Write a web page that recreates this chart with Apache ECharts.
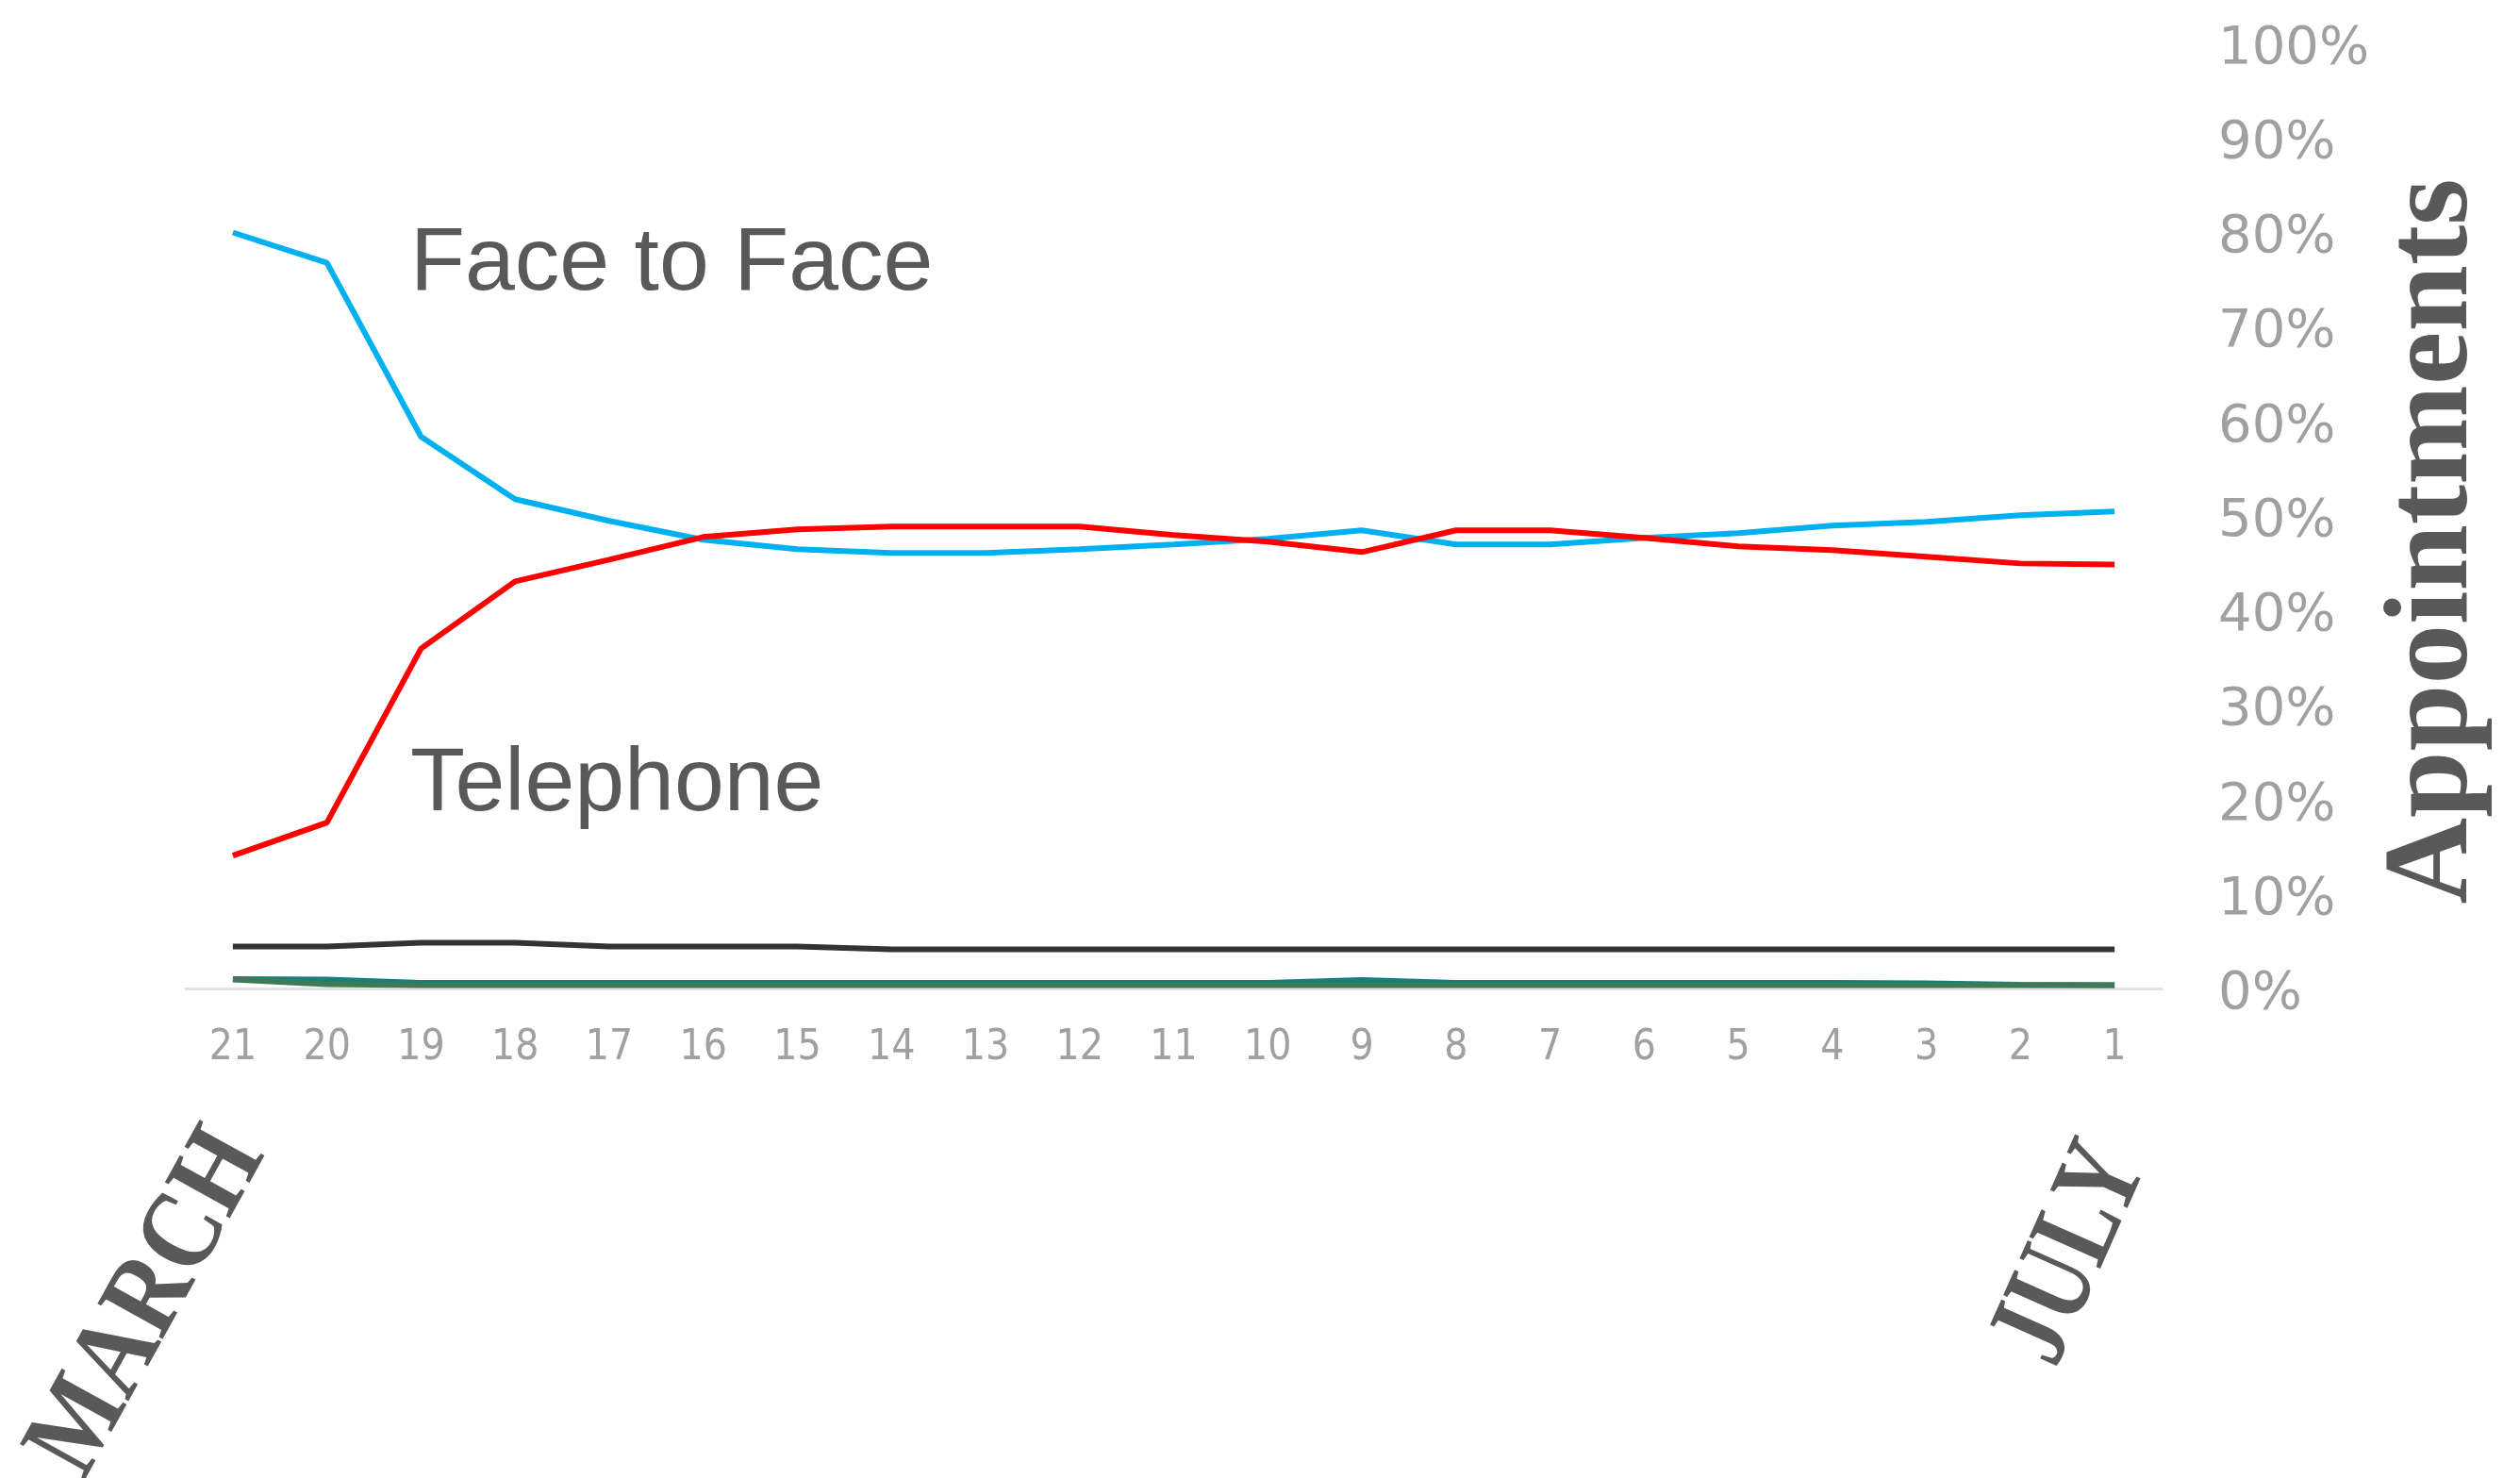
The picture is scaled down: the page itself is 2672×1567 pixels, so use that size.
<!DOCTYPE html>
<html>
<head>
<meta charset="utf-8">
<script src="https://cdn.jsdelivr.net/npm/echarts@6/dist/echarts.min.js"></script>
<style>
html,body{margin:0;padding:0;background:#fff;}
#chart{width:2672px;height:1567px;}
</style>
</head>
<body>
<div id="chart"></div>
<script>
var categories = ['21','20','19','18','17','16','15','14','13','12','11','10','9','8','7','6','5','4','3','2','1'];
var faceToFace = [80.0, 76.8, 58.4, 51.8, 49.5, 47.5, 46.5, 46.1, 46.1, 46.5, 47.0, 47.6, 48.5, 47.0, 47.0, 47.7, 48.2, 49.0, 49.4, 50.1, 50.5];
var telephone  = [14.1, 17.6, 36.0, 43.1, 45.4, 47.8, 48.6, 48.9, 48.9, 48.9, 48.0, 47.3, 46.2, 48.5, 48.5, 47.7, 46.8, 46.4, 45.7, 45.0, 44.9];
var otherDark  = [4.5, 4.5, 4.9, 4.9, 4.5, 4.5, 4.5, 4.2, 4.2, 4.2, 4.2, 4.2, 4.2, 4.2, 4.2, 4.2, 4.2, 4.2, 4.2, 4.2, 4.2];
var otherTeal  = [1.05, 1.0, 0.65, 0.65, 0.65, 0.65, 0.65, 0.65, 0.65, 0.65, 0.65, 0.65, 0.95, 0.65, 0.65, 0.65, 0.65, 0.65, 0.6, 0.45, 0.4];
var otherGreen = [1.0, 0.5, 0.4, 0.4, 0.4, 0.4, 0.4, 0.4, 0.4, 0.4, 0.4, 0.4, 0.4, 0.4, 0.4, 0.4, 0.4, 0.4, 0.4, 0.4, 0.4];
var yTicks = [0, 10, 20, 30, 40, 50, 60, 70, 80, 90, 100];

var chart = echarts.init(document.getElementById('chart'), null, {renderer: 'canvas'});

function lineSeries(name, data, color) {
  return {
    name: name, type: 'line', data: data, symbol: 'none', smooth: false,
    lineStyle: {color: color, width: 6}, itemStyle: {color: color},
    emphasis: {disabled: true}, animation: false
  };
}

function label(text, x, y, font, size, weight, rot, sx) {
  return {
    type: 'text', x: x, y: y, rotation: rot || 0, scaleX: sx || 1, scaleY: 1,
    style: {
      text: text, fill: '#595959',
      font: (weight || 'normal') + ' ' + size + 'px ' + font,
      align: 'center', verticalAlign: 'middle',
      textAlign: 'center', textVerticalAlign: 'middle'
    }
  };
}

var option = {
  backgroundColor: '#ffffff',
  animation: false,
  grid: {left: 197, right: 380, top: 46, bottom: 518.5, containLabel: false},
  xAxis: {
    type: 'category', data: categories, boundaryGap: true,
    axisLine: {show: true, lineStyle: {color: '#e2e2e2', width: 3}},
    axisTick: {show: false},
    axisLabel: {color: '#a0a0a0', fontSize: 44, fontFamily: '"DejaVu Sans Condensed", "DejaVu Sans", sans-serif', margin: 41, interval: 0},
    splitLine: {show: false}
  },
  yAxis: {
    type: 'value', position: 'right', min: 0, max: 100, interval: 10,
    axisLine: {show: false}, axisTick: {show: false}, splitLine: {show: false},
    axisLabel: {
      color: '#a0a0a0', fontSize: 56, fontFamily: '"DejaVu Sans", sans-serif', margin: 60, align: 'left',
      formatter: function (v) { return yTicks.indexOf(v) >= 0 ? '{p|' + v + '%}' : ''; },
      rich: {
        p: {color: '#a0a0a0', fontSize: 56, fontFamily: '"DejaVu Sans", sans-serif', padding: [12, 0, 0, 0]}
      }
    }
  },
  series: [
    lineSeries('Other (teal)', otherTeal, '#17807e'),
    lineSeries('Other (green)', otherGreen, '#3d7a55'),
    lineSeries('Other', otherDark, '#333333'),
    lineSeries('Face to Face', faceToFace, '#00b0f0'),
    lineSeries('Telephone', telephone, '#ff0000')
  ],
  graphic: [
    {
      type: 'text', x: 435, y: 281,
      style: {text: 'Face to Face', fill: '#595959', font: 'normal 95px "Liberation Sans", Arial, sans-serif', align: 'left', verticalAlign: 'middle', textAlign: 'left', textVerticalAlign: 'middle'}
    },
    {
      type: 'text', x: 435, y: 833,
      style: {text: 'Telephone', fill: '#595959', font: 'normal 95px "Liberation Sans", Arial, sans-serif', align: 'left', verticalAlign: 'middle', textAlign: 'left', textVerticalAlign: 'middle'}
    },
    label('Appointments', 2582, 574, '"Liberation Serif", "Times New Roman", serif', 127, 'bold', Math.PI / 2, 1),
    label('MARCH', 158, 1382, '"Liberation Serif", "Times New Roman", serif', 120, 'bold', 61 * Math.PI / 180, 0.85),
    label('JULY', 2198, 1330, '"Liberation Serif", "Times New Roman", serif', 126, 'bold', 66 * Math.PI / 180, 0.75)
  ]
};
chart.setOption(option);
</script>
</body>
</html>
